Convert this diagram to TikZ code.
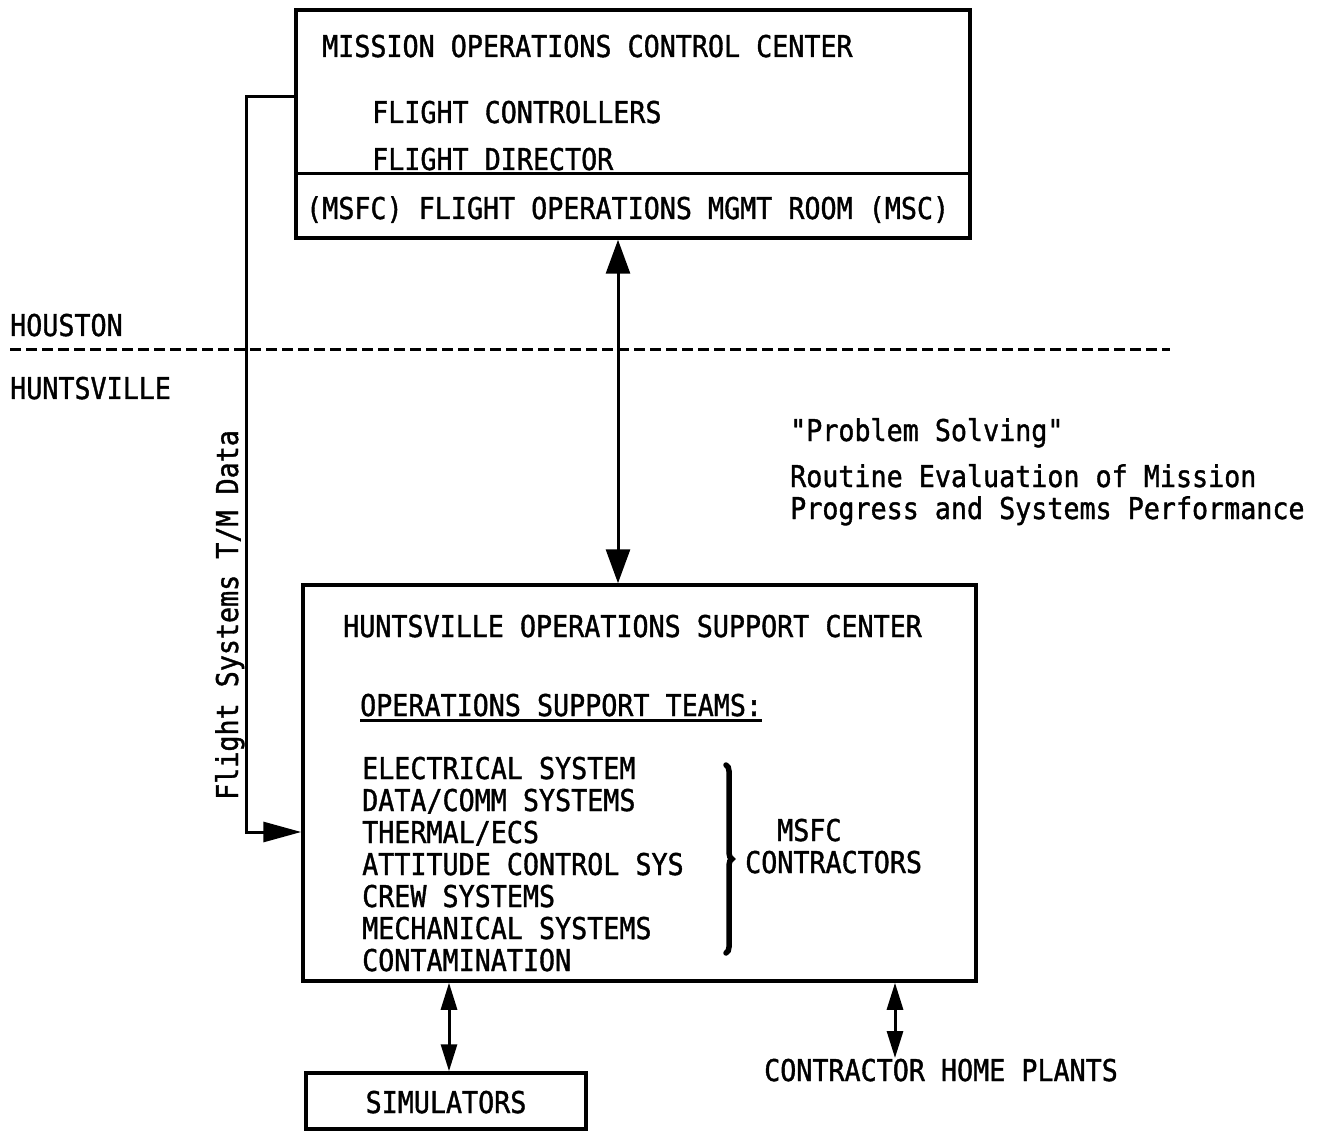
\documentclass[tikz,border=0pt]{standalone}
\usepackage{fontspec}
\newfontfamily\typewriter{DejaVu Sans Mono}[FakeStretch=0.89,FakeBold=1.2]
\usetikzlibrary{arrows.meta,decorations.pathreplacing}
\begin{document}
\begin{tikzpicture}[x=1pt,y=-1pt,
  txt/.style={anchor=base west,inner sep=0pt,font=\typewriter\fontsize{30}{32}\selectfont},
  box/.style={draw,line width=3.5pt,inner sep=0pt},
  conn/.style={line width=3pt},
  bigtip/.tip={Triangle[length=34pt,width=24pt]},
  smalltip/.tip={Triangle[length=27pt,width=16pt]},
  bigdbl/.style={conn,bigtip-bigtip},
  smalldbl/.style={conn,smalltip-smalltip}]
\useasboundingbox[fill=white] (0,0) rectangle (1317,1131);

% Mission Operations Control Center
\node[box,minimum width=674pt,minimum height=228pt] (mocc) at (633,124) {};
\coordinate (split) at (0,174);
\draw[conn] (mocc.west |- split) -- (mocc.east |- split);
\node[txt] (moccT) at (322,57) {MISSION OPERATIONS CONTROL CENTER};
\node[txt] (fc) at (372,123) {FLIGHT CONTROLLERS};
\node[txt] (fd) at (372,170) {FLIGHT DIRECTOR};
\node[txt] (fomr) at (306,219) {(MSFC) FLIGHT OPERATIONS MGMT ROOM (MSC)};

% Site boundary
\node[txt] (hou) at (10,336) {HOUSTON};
\node[txt] (hsv) at (10,399) {HUNTSVILLE};
\coordinate (bndL) at (10,350);
\coordinate (bndR) at (1170,350);
\draw[conn,dash pattern=on 11pt off 5pt] (bndL) -- (bndR);

% Huntsville Operations Support Center
\node[box,minimum width=673pt,minimum height=396pt] (hosc) at (639.5,783) {};
\node[txt] (hoscT) at (343,637) {HUNTSVILLE OPERATIONS SUPPORT CENTER};
\node[txt] (ost) at (360,716) {OPERATIONS SUPPORT TEAMS:};
\draw[conn] (ost.base west) ++(0,4) coordinate (ulA) -- (ulA -| ost.base east);
\node[txt] (t1) at (362,779) {ELECTRICAL SYSTEM};
\node[txt] (t2) at (362,811) {DATA/COMM SYSTEMS};
\node[txt] (t3) at (362,843) {THERMAL/ECS};
\node[txt] (t4) at (362,875) {ATTITUDE CONTROL SYS};
\node[txt] (t5) at (362,907) {CREW SYSTEMS};
\node[txt] (t6) at (362,939) {MECHANICAL SYSTEMS};
\node[txt] (t7) at (362,971) {CONTAMINATION};
\draw[line width=5.5pt,line cap=round,decorate,decoration={brace,amplitude=6pt}] (726,765) -- (726,953);
\node[txt] (msfc) at (777,841) {MSFC};
\node[txt] (contr) at (745,873) {CONTRACTORS};

% Notes on the link between the centres
\node[txt] (ps) at (790,441) {"Problem Solving"};
\node[txt] (rt1) at (790,487) {Routine Evaluation of Mission};
\node[txt] (rt2) at (790,519) {Progress and Systems Performance};

% Telemetry feed
\coordinate (tmA) at (246,97);
\coordinate (tmB) at (246,832);
\draw[conn,-{Triangle[length=38pt,width=20pt]}] (mocc.west |- tmA) -- (tmA) -- (tmB) -- (hosc.west |- tmB);
\node[txt,rotate=90] (tm) at (238,800) {Flight Systems T/M Data};

% Houston <-> Huntsville
\coordinate (midX) at (618,400);
\draw[bigdbl] (mocc.south -| midX) -- (hosc.north -| midX);

% Simulators
\node[box,minimum width=280pt,minimum height=56pt] (sim) at (446,1101) {};
\node[txt,anchor=base] (simT) at (446,1113) {SIMULATORS};
\coordinate (simX) at (449,1000);
\draw[smalldbl] (hosc.south -| simX) -- (sim.north -| simX);

% Contractor home plants
\node[txt] (chp) at (764,1081) {CONTRACTOR HOME PLANTS};
\coordinate (chpTop) at (895,1058);
\draw[smalldbl] (hosc.south -| chpTop) -- (chpTop);
\end{tikzpicture}
\end{document}
